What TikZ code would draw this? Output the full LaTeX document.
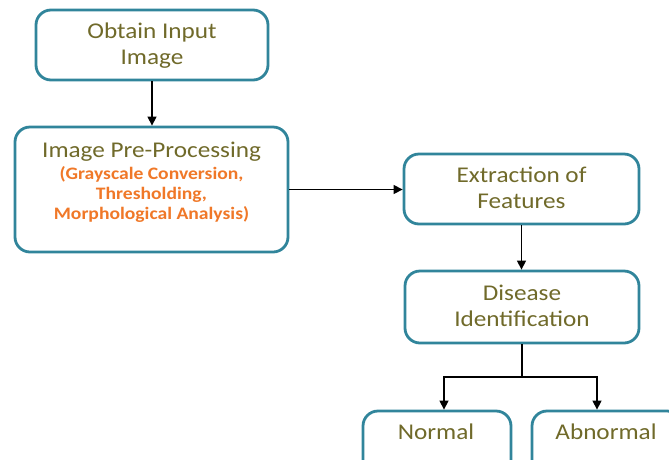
\documentclass[tikz,border=0pt]{standalone}
\usepackage{fontspec}
\setmainfont{Carlito}[FakeStretch=1.12]
\usetikzlibrary{arrows.meta}
\definecolor{bordc}{RGB}{49,133,155}
\definecolor{txtc}{RGB}{112,106,42}
\definecolor{orc}{RGB}{240,120,40}
\begin{document}
\begin{tikzpicture}[x=1pt,y=-1pt,
  box/.style={draw=bordc, line width=2.8pt, rounded corners=15pt, fill=white, inner sep=0pt},
  lbl/.style={text=txtc, font=\fontsize{22.5}{26}\selectfont, align=center, inner sep=0pt},
  sub/.style={text=orc, font=\fontsize{17.5}{20}\selectfont\bfseries, align=center, inner sep=0pt},
  arr/.style={line width=1.3pt, -{Triangle[width=9pt,length=9pt]}}]
\useasboundingbox (0,0) rectangle (669,459);
\clip (0,0) rectangle (669,459);
\node[box, minimum width=232pt, minimum height=70pt] (b1) at (152,45) {};
\node[lbl] (t1) at (152,45.5) {Obtain Input\\Image};
\node[box, minimum width=273pt, minimum height=125pt] (b2) at (151.5,189.5) {};
\node[lbl] (t2) at (151.5,152) {Image Pre-Processing};
\node[sub] (t2b) at (151.5,194) {(Grayscale Conversion,\\Thresholding,\\Morphological Analysis)};
\node[box, minimum width=235pt, minimum height=70pt] (b3) at (521.5,189) {};
\node[lbl] (t3) at (521.5,187.5) {Extraction of\\Features};
\node[box, minimum width=234pt, minimum height=72pt] (b4) at (522,307) {};
\node[lbl] (t4) at (522,305.5) {Disease\\Identification};
\node[box, minimum width=148pt, minimum height=80pt] (b5) at (437,451) {};
\node[lbl] (t5) at (436,432) {Normal};
\node[box, minimum width=150pt, minimum height=80pt] (b6) at (607,451) {};
\node[lbl] (t6) at (606,432) {Abnormal};
\draw[arr] (b1.south) -- (b1.south |- b2.north);
\draw[arr] (b2.east) -- (b2.east -| b3.west);
\draw[arr] (b3.south) -- (b3.south |- b4.north);
\coordinate (j) at (522,377);
\coordinate (jl) at (444,377);
\coordinate (jr) at (597,377);
\draw[line width=1.3pt] (b4.south) -- (j);
\draw[arr] (j) -- (jl) -- (jl |- b5.north);
\draw[arr] (j) -- (jr) -- (jr |- b6.north);
\end{tikzpicture}
\end{document}
